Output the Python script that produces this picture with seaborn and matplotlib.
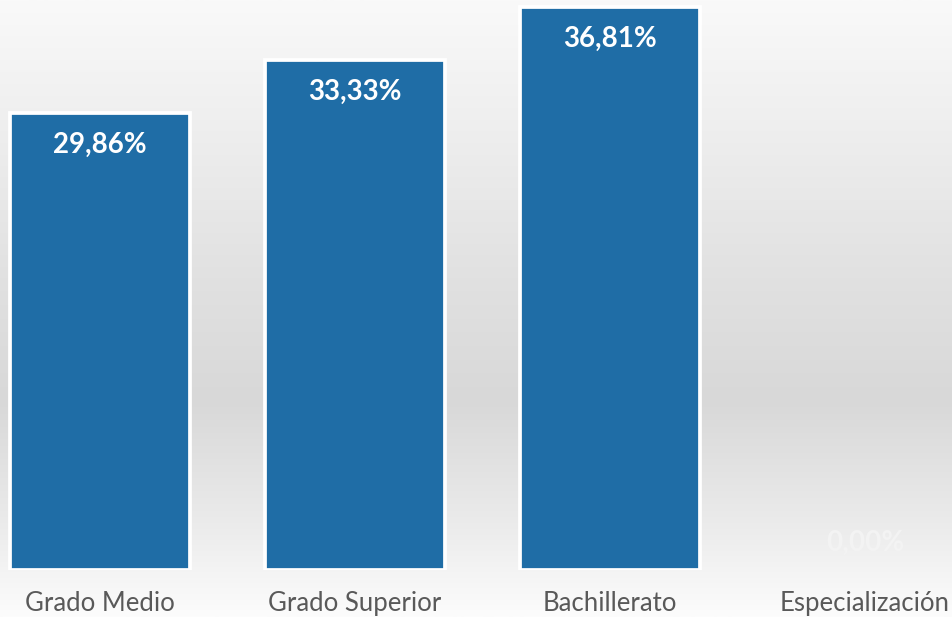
import numpy as np
import pandas as pd
import matplotlib
matplotlib.use("Agg")
import matplotlib.pyplot as plt
from matplotlib.colors import LinearSegmentedColormap
import seaborn as sns

categories = ["Grado Medio", "Grado Superior", "Bachillerato", "Especialización"]
values = [29.86, 33.33, 36.81, 0.00]
value_labels = ["29,86%", "33,33%", "36,81%", "0,00%"]

sns.set_theme(style="white")
plt.rcParams["font.family"] = ["Lato", "DejaVu Sans"]

W, H, DPI = 952, 617, 100
fig = plt.figure(figsize=(W / DPI, H / DPI), dpi=DPI)

# background gradient
bg = fig.add_axes([0, 0, 1, 1])
bg.set_axis_off()
cmap = LinearSegmentedColormap.from_list(
    "bg",
    [(0.0, "#f9f9f9"), (0.25, "#ececec"), (0.45, "#e1e1e1"),
     (0.65, "#d8d8d8"), (0.85, "#ebebeb"), (1.0, "#fcfcfc")],
)
grad = np.linspace(0, 1, 256).reshape(-1, 1)
bg.imshow(grad, aspect="auto", cmap=cmap, extent=[0, 1, 1, 0], vmin=0, vmax=1)
bg.set_xlim(0, 1)
bg.set_ylim(1, 0)

# main axes
base_px = 47
spacing = 255
first_center = 100
left_px = first_center - spacing * 0.5
ax = fig.add_axes([left_px / W, base_px / H, spacing * 4 / W, (H - base_px) / H])
ax.patch.set_alpha(0)

df = pd.DataFrame({"cat": categories, "val": values})
sns.barplot(data=df, x="cat", y="val", color="#1F6DA6", saturation=1,
            width=0.708, edgecolor="white", linewidth=2.7, ax=ax)
for p, v in zip(ax.patches, values):
    if v == 0:
        p.set_edgecolor("none")

ax.set_xlim(-0.5, 3.5)
ax.set_ylim(0, (H - base_px) / 15.3)
for s in ax.spines.values():
    s.set_visible(False)
ax.set_yticks([])
ax.set_xlabel("")
ax.set_ylabel("")
ax.tick_params(axis="x", length=0, pad=15, labelsize=18.5, labelcolor="#595959")

for i, (v, lab) in enumerate(zip(values, value_labels)):
    if v > 0:
        ax.annotate(lab, xy=(i, v), xytext=(0, -32 * 72 / DPI), textcoords="offset points",
                    ha="center", va="center", color="white", fontsize=20,
                    fontweight="bold")
    else:
        ax.annotate(lab, xy=(i, v), xytext=(0, 27 * 72 / DPI), textcoords="offset points",
                    ha="center", va="center", color="#f3f3f3", fontsize=20,
                    fontweight="bold")

fig.savefig("out.png", dpi=DPI)
